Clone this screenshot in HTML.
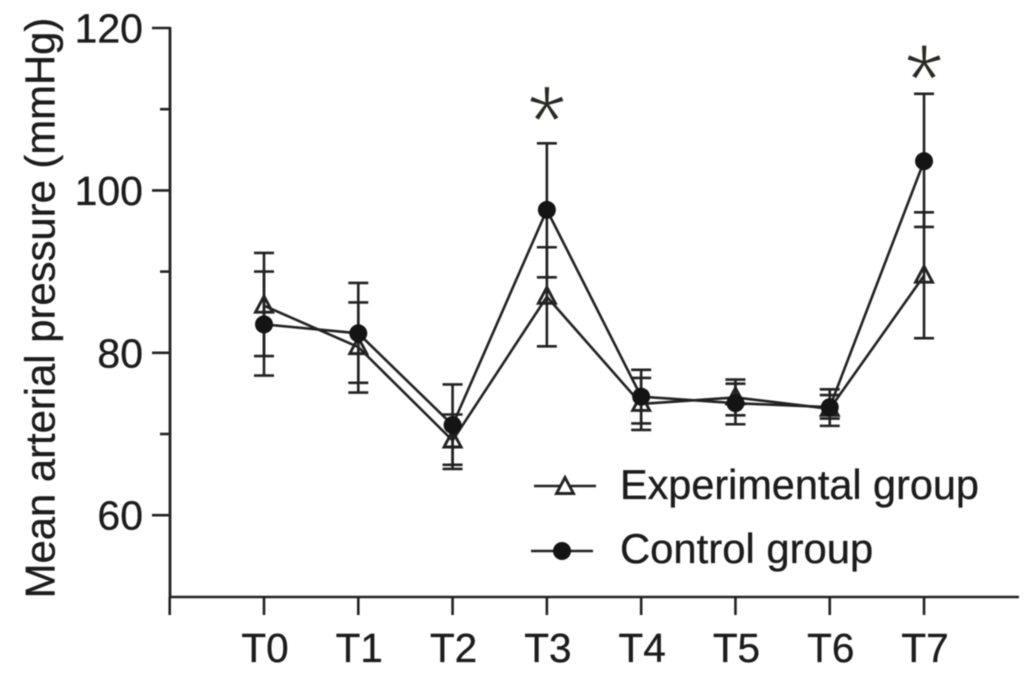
<!DOCTYPE html>
<html lang="en">
<head>
<meta charset="utf-8">
<title>Mean arterial pressure chart</title>
<style>
html,body{margin:0;padding:0;background:#fff;width:1032px;height:676px;overflow:hidden}
svg{display:block;filter:blur(0.5px)}
text{font-family:"Liberation Sans",sans-serif;fill:#1c1c1c;stroke:#1c1c1c;stroke-width:0.35px}
</style>
</head>
<body>
<svg id="chart" xmlns="http://www.w3.org/2000/svg" width="1032" height="676" viewBox="0 0 1032 676">
<rect x="0" y="0" width="1032" height="676" fill="#fff"/>
</svg>
<script>
const categories = ["T0","T1","T2","T3","T4","T5","T6","T7"];
const expMean  = [85.8,80.7,69.2,86.9,73.7,74.5,73.1,89.5];
const expUpper = [92.3,86.2,72.4,93.0,76.9,76.7,74.8,97.3];
const expLower = [79.6,75.1,65.7,80.8,70.5,72.3,71.9,81.8];
const ctlMean  = [83.5,82.4,71.1,97.6,74.6,73.8,73.3,103.6];
const ctlUpper = [90.0,88.6,76.1,105.8,77.9,76.2,75.5,111.9];
const ctlLower = [77.2,76.3,66.2,89.3,71.3,71.2,71.0,95.5];
const yMajorTicks = [60,80,100,120];
const yMinorTicks = [70,90,110];
const significant = ["T3","T7"];
const starLevels = [110.3,115.4];

const NS = "http://www.w3.org/2000/svg";
const svg = document.getElementById("chart");
const INK = "#222";
function xScale(i){ return 264 + (i * 94.29); }
function yScale(v){ return 28 + (120 - v) * 8.12; }
function make(tag, attrs, parent){
  const el = document.createElementNS(NS, tag);
  for (const k in attrs) el.setAttribute(k, attrs[k]);
  (parent || svg).appendChild(el);
  return el;
}
function seg(x1,y1,x2,y2,w,parent){
  return make("line",{x1:x1,y1:y1,x2:x2,y2:y2,stroke:INK,"stroke-width":w||2.6},parent);
}
function triPoints(cx,cy){
  return (cx)+","+(cy-9.5)+" "+(cx+8.5)+","+(cy+6.5)+" "+(cx-8.5)+","+(cy+6.5);
}

/* axes */
const yAxis = make("g",{});


const yLine = seg(170,yScale(120)-1,170,598,2.8,yAxis);


yMajorTicks.forEach(function(v){
  const t = seg(152,yScale(v),170,yScale(v),2.6,yAxis);
  
  
  const l = make("text",{x:143,y:yScale(v)+14.5,"text-anchor":"end","font-size":41},yAxis);
  
  
  l.textContent = v;
});
yMinorTicks.forEach(function(v){
  const t = seg(160,yScale(v),170,yScale(v),2.6,yAxis);
  
  
});
const yTitle = make("text",{transform:"translate(54.5,308) rotate(-90)","text-anchor":"middle","font-size":41.8},svg);


yTitle.textContent = "Mean arterial pressure (mmHg)";

const xAxis = make("g",{});


const xLine = seg(169,597,1019,597,2.6,xAxis);


for (let i = -1; i < categories.length; i++){
  const t = seg(xScale(i),597,xScale(i),615,2.6,xAxis);
  
  
}
categories.forEach(function(c,i){
  const l = make("text",{x:xScale(i)+1,y:662,"text-anchor":"middle","font-size":40.5},xAxis);
  
  
  l.textContent = c;
});

/* series */
function linePath(vals){
  return vals.map(function(v,i){ return (i?"L":"M")+xScale(i)+" "+yScale(v); }).join(" ");
}
const expGroup = make("g",{});


const ctlGroup = make("g",{});



expMean.forEach(function(v,i){
  const m = make("polygon",{points:triPoints(xScale(i),yScale(v)),fill:"#fff",stroke:INK,"stroke-width":2.9},expGroup);
  
  
});
function errorBars(up,lo,group){
  up.forEach(function(u,i){
    const x = xScale(i), a = yScale(u), b = yScale(lo[i]);
    const bar = seg(x,a,x,b,2.6,group);
    
    
    const c1 = seg(x-10,a,x+10,a,2.6,group);
    
    
    const c2 = seg(x-10,b,x+10,b,2.6,group);
    
    
  });
}
errorBars(expUpper,expLower,expGroup);
errorBars(ctlUpper,ctlLower,ctlGroup);
const expLine = make("path",{d:linePath(expMean),fill:"none",stroke:INK,"stroke-width":2.6},expGroup);


const ctlLine = make("path",{d:linePath(ctlMean),fill:"none",stroke:INK,"stroke-width":2.6},ctlGroup);


ctlMean.forEach(function(v,i){
  const m = make("circle",{cx:xScale(i),cy:yScale(v),r:9,fill:"#141414"},ctlGroup);
  
  
});

/* significance stars */
significant.forEach(function(c,k){
  const i = categories.indexOf(c);
  const s = make("text",{x:xScale(i),y:yScale(starLevels[k])+48,"text-anchor":"middle","font-size":100,style:"fill:#2a2a24;stroke:#fff;stroke-width:2.2px"},svg);
  
  
  s.textContent = "*";
});

/* legend */
const legend = make("g",{});


const e1 = make("g",{},legend);


seg(534,486,596,486,2.6,e1);
const e1m = make("polygon",{points:triPoints(565,487),fill:"#fff",stroke:INK,"stroke-width":2.9},e1);


const e1t = make("text",{x:620,y:499,"font-size":41.4},e1);


e1t.textContent = "Experimental group";
const e2 = make("g",{},legend);


seg(531,551,593,551,2.6,e2);
const e2m = make("circle",{cx:562,cy:551,r:9,fill:"#141414"},e2);


const e2t = make("text",{x:620,y:563,"font-size":41.8},e2);


e2t.textContent = "Control group";
</script>
</body>
</html>
